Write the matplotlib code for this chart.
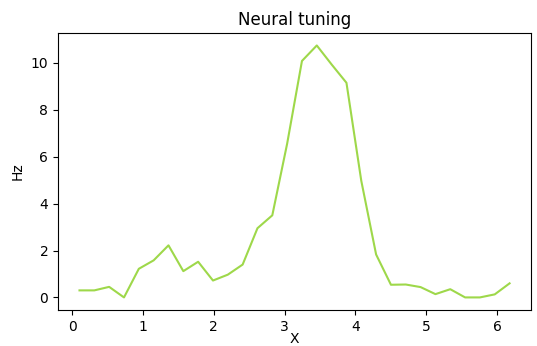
import numpy as np
import matplotlib
matplotlib.use("Agg")
import matplotlib.pyplot as plt

# stimulus directions: 30 bin centres around the circle
n_bins = 30
directions = np.arange(n_bins) * 2 * np.pi / n_bins + np.pi / n_bins

# mean firing rate per direction (Hz)
rates = [0.3, 0.3, 0.45, 0.0, 1.22, 1.58, 2.22, 1.12, 1.52, 0.72,
         0.97, 1.4, 2.95, 3.5, 6.55, 10.08, 10.74, 9.93, 9.15, 4.97,
         1.83, 0.54, 0.55, 0.44, 0.14, 0.35, 0.0, 0.0, 0.13, 0.6]

fig = plt.figure(figsize=(5.37, 3.46), dpi=100)
ax = fig.add_axes([0.108, 0.104, 0.881, 0.801])
ax.plot(directions, rates, color="#9ed84a", linewidth=1.5)
ax.set_xlabel("X", labelpad=-1.5)
ax.set_ylabel("Hz")
ax.set_title("Neural tuning")

fig.savefig("out.png", dpi=100)
